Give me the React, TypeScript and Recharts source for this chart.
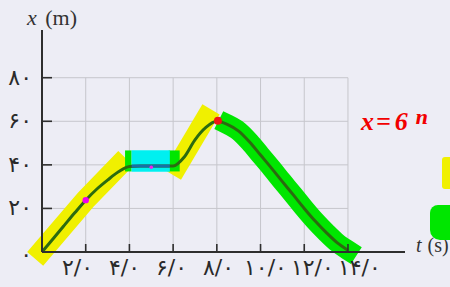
import React from "react";
import { LineChart, Line, XAxis, YAxis, ReferenceLine, ReferenceDot, Label } from "recharts";

// position–time graph, x (m) against t (s), read at 0.5 s steps
const TIMES = [
  0, 0.5, 1, 1.5, 2, 2.5, 3, 3.5, 4, 4.5, 5, 5.5, 6, 6.5, 7,
  7.5, 8, 8.5, 9, 9.5, 10, 10.5, 11, 11.5, 12, 12.5, 13, 13.5, 14,
];
const POSITIONS = [
  0, 6, 12, 18, 23.8, 28.8, 33, 36.8, 39.3, 39.5, 39.5, 39.5, 39.5, 43.5, 51.5,
  57.2, 60, 58.5, 55.5, 50.5, 44.5, 38.5, 32.3, 26.2, 20, 14.2, 9, 4.3, 0.8,
];

const X_TICKS = [2, 4, 6, 8, 10, 12, 14];
const X_TICK_LABELS = ["۲/۰", "۴/۰", "۶/۰", "۸/۰", "۱۰/۰", "۱۲/۰", "۱۴/۰"];
const Y_TICKS = [0, 20, 40, 60, 80];
const Y_TICK_LABELS = ["۰", "۲۰", "۴۰", "۶۰", "۸۰"];

// highlighter strokes drawn over the graph by hand
const YELLOW_1_T = [0, 2, 3.5];
const YELLOW_1_X = [0.5, 24, 39.5];
const YELLOW_2_T = [6.2, 7.5];
const YELLOW_2_X = [39.5, 61.5];
const GREEN_FROM_T = 8.5; // green stroke follows the falling part of the curve
const GREEN_PATCH_1_T = [3.8, 4.1];
const GREEN_PATCH_2_T = [5.8, 6.3];
const PATCH_X = 41.8;
const CYAN_T = [4.1, 5.85];
const REST_T = [4.1, 5.85];
const REST_X = 39.5;

// marked points
const MARK_T = [2, 5, 8.05];
const MARK_X = [23.8, 38.9, 60.2];

const BG = "#EDEDF5";
const AXIS = "#2E2E2E";
const GRID = "#C6C6CC";
const CURVE = "#2B6B10";
const YELLOW = "#F0F000";
const GREEN = "#00E600";
const CYAN = "#00F0F0";
const MARK_COLORS = ["#F000F0", "#F020F0", "#F01414"];
const MARK_SIZES = [3.2, 1.8, 4];
const DIGIT_FONT = "DejaVu Sans";

const toPoints = (ts: number[], xs: number[]) => ts.map((t, i) => ({ t, x: xs[i] }));

const curve = toPoints(TIMES, POSITIONS);
const greenBand = curve.filter((p) => p.t >= GREEN_FROM_T);

const renderXTick = (props: any) => {
  const { x, y, payload } = props;
  const v = payload.value;
  // the printed labels run on a slightly wider spacing than the ticks
  const dx = -11.5 + 1.64 * v;
  return (
    <g>
      <line x1={x} y1={y} x2={x} y2={y - 8} stroke={AXIS} strokeWidth={1.6} />
      <text x={x + dx} y={y + 23} textAnchor="middle" fontSize={22} letterSpacing={0.5} fill="#2A2A2A" fontFamily={DIGIT_FONT}>
        {X_TICK_LABELS[X_TICKS.indexOf(v)]}
      </text>
    </g>
  );
};

const renderYTick = (props: any) => {
  const { x, y, payload } = props;
  const v = payload.value;
  return (
    <g>
      {v > 0 && <line x1={x} y1={y} x2={x + 10} y2={y} stroke={AXIS} strokeWidth={1.6} />}
      <text x={x - 10} y={y + (v > 0 ? 7 : 10)} textAnchor="end" fontSize={22} letterSpacing={1} fill="#2A2A2A" fontFamily={DIGIT_FONT}>
        {Y_TICK_LABELS[Y_TICKS.indexOf(v)]}
      </text>
    </g>
  );
};

const renderYTitle = (props: any) => {
  const vb = props.viewBox;
  return (
    <text x={vb.x + 27} y={vb.y - 5} fontSize={22} fill="#333" fontFamily="Liberation Serif">
      <tspan fontStyle="italic">x</tspan>
      <tspan dx={3}> (m)</tspan>
    </text>
  );
};

const renderXTitle = (props: any) => {
  const vb = props.viewBox;
  return (
    <text x={vb.x + vb.width + 11} y={vb.y} fontSize={20} fill="#333" fontFamily="Liberation Serif">
      <tspan fontStyle="italic">t</tspan>
      <tspan dx={1}> (s)</tspan>
    </text>
  );
};

const band = (key: string, data: any[], color: string, width: number, cap: "square" | "butt", type: "linear" | "monotone" = "linear") => (
  <Line
    key={key}
    data={data}
    dataKey="x"
    type={type}
    stroke={color}
    strokeWidth={width}
    strokeLinecap={cap}
    strokeLinejoin="round"
    dot={false}
    activeDot={false}
    isAnimationActive={false}
  />
);

export default function App() {
  return (
    <div style={{ position: "absolute", left: 0, top: 0, width: 450, height: 287, background: BG, overflow: "hidden" }}>
      <LineChart width={450} height={287} margin={{ top: 30, right: 45, left: 0, bottom: 0 }}>
        <XAxis
          type="number"
          dataKey="t"
          domain={[0, 16.61]}
          ticks={X_TICKS}
          interval={0}
          tick={renderXTick}
          tickLine={false}
          tickSize={0}
          tickMargin={0}
          height={35}
          axisLine={{ stroke: AXIS, strokeWidth: 2 }}
        >
          <Label content={renderXTitle} />
        </XAxis>
        <YAxis
          type="number"
          dataKey="x"
          domain={[0, 101.9]}
          ticks={Y_TICKS}
          interval={0}
          tick={renderYTick}
          tickLine={false}
          tickSize={0}
          tickMargin={0}
          width={42}
          axisLine={{ stroke: AXIS, strokeWidth: 2 }}
        >
          <Label content={renderYTitle} />
        </YAxis>

        {/* grid only covers 0–14 s and 0–80 m */}
        {Y_TICKS.filter((v) => v > 0).map((v) => (
          <ReferenceLine key={"h" + v} segment={[{ x: 0, y: v }, { x: 14, y: v }]} stroke={GRID} strokeWidth={1} zIndex={-100} />
        ))}
        {X_TICKS.map((v) => (
          <ReferenceLine key={"v" + v} segment={[{ x: v, y: 0 }, { x: v, y: 80 }]} stroke={GRID} strokeWidth={1} zIndex={-100} />
        ))}

        {band("y1", toPoints(YELLOW_1_T, YELLOW_1_X), YELLOW, 21, "square")}
        {band("y2", toPoints(YELLOW_2_T, YELLOW_2_X), YELLOW, 20, "square")}
        {band("g", greenBand, GREEN, 20, "square", "monotone")}
        {band("gp1", toPoints(GREEN_PATCH_1_T, [PATCH_X, PATCH_X]), GREEN, 21, "butt")}
        {band("gp2", toPoints(GREEN_PATCH_2_T, [PATCH_X, PATCH_X]), GREEN, 21, "butt")}
        {band("c", toPoints(CYAN_T, [PATCH_X, PATCH_X]), CYAN, 21.5, "butt")}

        <Line data={curve} dataKey="x" type="monotone" stroke={CURVE} strokeWidth={3} dot={false} activeDot={false} isAnimationActive={false} />
        <Line data={toPoints(REST_T, [REST_X, REST_X])} dataKey="x" stroke="#1670A8" strokeWidth={3} strokeLinecap="butt" dot={false} activeDot={false} isAnimationActive={false} />

        {MARK_T.map((t, i) => (
          <ReferenceDot key={"m" + i} x={t} y={MARK_X[i]} r={MARK_SIZES[i]} fill={MARK_COLORS[i]} stroke="none" />
        ))}
      </LineChart>

      {/* hand-written note and stray highlighter marks at the right edge */}
      <div
        style={{
          position: "absolute",
          left: 361,
          top: 97,
          color: "#F20000",
          font: 'italic bold 26px "Liberation Serif"',
          whiteSpace: "nowrap",
        }}
      >
        <span>x</span>
        <span style={{ marginLeft: 2 }}>=</span>
        <span style={{ marginLeft: 4 }}>6</span>
        <span style={{ marginLeft: 7, fontSize: 36, position: "relative", top: 4 }}>ⁿ</span>
      </div>
      <div style={{ position: "absolute", left: 442, top: 157, width: 8, height: 32, background: YELLOW, borderRadius: "3px 0 0 3px" }} />
      <div style={{ position: "absolute", left: 430, top: 205, width: 20, height: 35, background: GREEN, borderRadius: "8px 0 0 10px" }} />
    </div>
  );
}
